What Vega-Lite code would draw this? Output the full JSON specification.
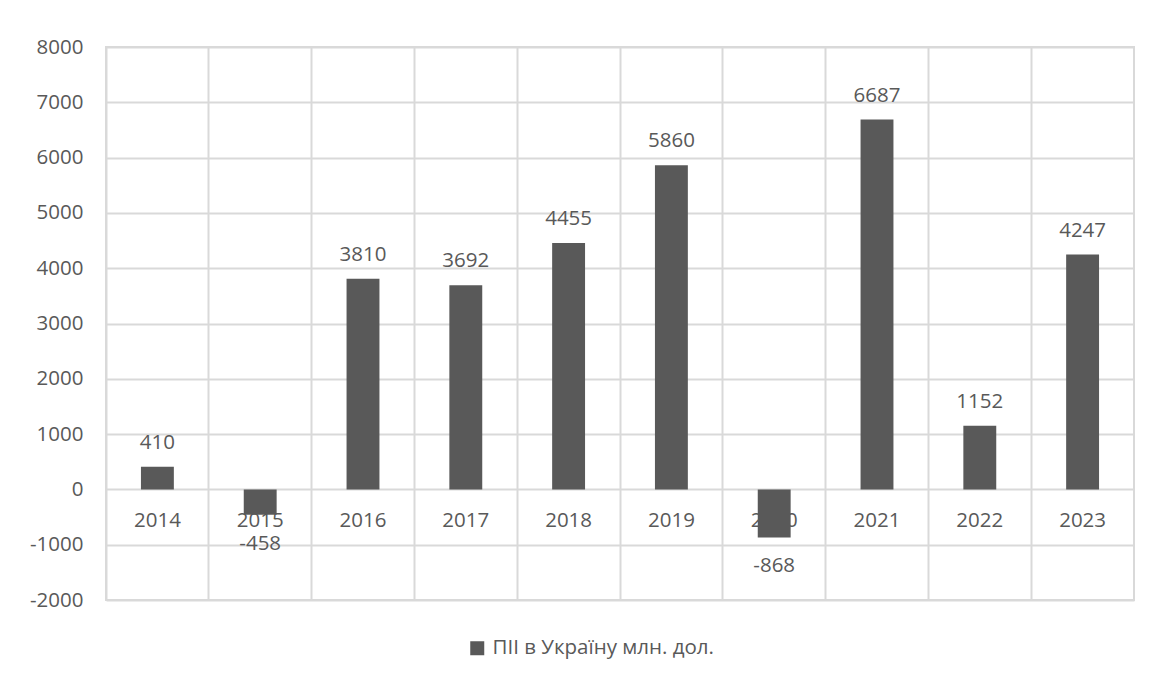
{
  "$schema": "https://vega.github.io/schema/vega-lite/v6.json",
  "autosize": "none",
  "width": 1028,
  "height": 553,
  "padding": {"left": 106, "top": 47, "right": 16, "bottom": 80},
  "background": "white",
  "config": {
    "font": "Open Sans",
    "view": {"stroke": "#d9d9d9", "strokeWidth": 2},
    "axis": {"labelFont": "Open Sans", "labelColor": "#595959", "labelFontSize": 20.5},
    "legend": {"labelFont": "Open Sans", "labelColor": "#595959", "labelFontSize": 20.5, "padding": 0, "labelLimit": 0}
  },
  "data": {
    "values": [
      {"year": "2014", "v": 410, "series": "ПІІ в Україну млн. дол."},
      {"year": "2015", "v": -458, "series": "ПІІ в Україну млн. дол."},
      {"year": "2016", "v": 3810, "series": "ПІІ в Україну млн. дол."},
      {"year": "2017", "v": 3692, "series": "ПІІ в Україну млн. дол."},
      {"year": "2018", "v": 4455, "series": "ПІІ в Україну млн. дол."},
      {"year": "2019", "v": 5860, "series": "ПІІ в Україну млн. дол."},
      {"year": "2020", "v": -868, "series": "ПІІ в Україну млн. дол."},
      {"year": "2021", "v": 6687, "series": "ПІІ в Україну млн. дол."},
      {"year": "2022", "v": 1152, "series": "ПІІ в Україну млн. дол."},
      {"year": "2023", "v": 4247, "series": "ПІІ в Україну млн. дол."}
    ]
  },
  "encoding": {
    "x": {
      "field": "year", "type": "nominal", "sort": null,
      "scale": {"paddingInner": 0, "paddingOuter": 0},
      "axis": {"title": null, "labels": false, "ticks": false, "domain": false, "grid": true, "bandPosition": 0, "gridColor": "#d9d9d9", "gridWidth": 2}
    }
  },
  "layer": [
    {
      "mark": {"type": "text", "fontSize": 20.5, "color": "#595959", "baseline": "alphabetic", "dy": 38},
      "encoding": {
        "y": {"datum": 0, "type": "quantitative"},
        "text": {"field": "year"}
      }
    },
    {
      "mark": {"type": "bar", "width": {"band": 0.32}},
      "encoding": {
        "y": {
          "field": "v", "type": "quantitative",
          "scale": {"domain": [-2000, 8000], "nice": false, "zero": false},
          "axis": {"title": null, "values": [-2000, -1000, 0, 1000, 2000, 3000, 4000, 5000, 6000, 7000, 8000], "labelExpr": "'' + datum.value", "domain": false, "ticks": false, "labelPadding": 23, "grid": true, "gridColor": "#d9d9d9", "gridWidth": 2}
        },
        "y2": {"datum": 0},
        "color": {
          "field": "series", "type": "nominal",
          "scale": {"range": ["#595959"]},
          "legend": {"title": null, "orient": "none", "legendX": 361, "legendY": 591, "symbolType": "square", "symbolSize": 196, "symbolStrokeWidth": 0, "labelOffset": 5, "labelLimit": 0}
        }
      }
    },
    {
      "transform": [{"filter": "datum.v >= 0"}],
      "mark": {"type": "text", "fontSize": 20.5, "color": "#595959", "baseline": "alphabetic", "dy": -18},
      "encoding": {
        "y": {"field": "v", "type": "quantitative"},
        "text": {"field": "v", "type": "nominal"}
      }
    },
    {
      "transform": [{"filter": "datum.v < 0"}],
      "mark": {"type": "text", "fontSize": 20.5, "color": "#595959", "baseline": "alphabetic", "dy": 35},
      "encoding": {
        "y": {"field": "v", "type": "quantitative"},
        "text": {"field": "v", "type": "nominal"}
      }
    }
  ]
}
